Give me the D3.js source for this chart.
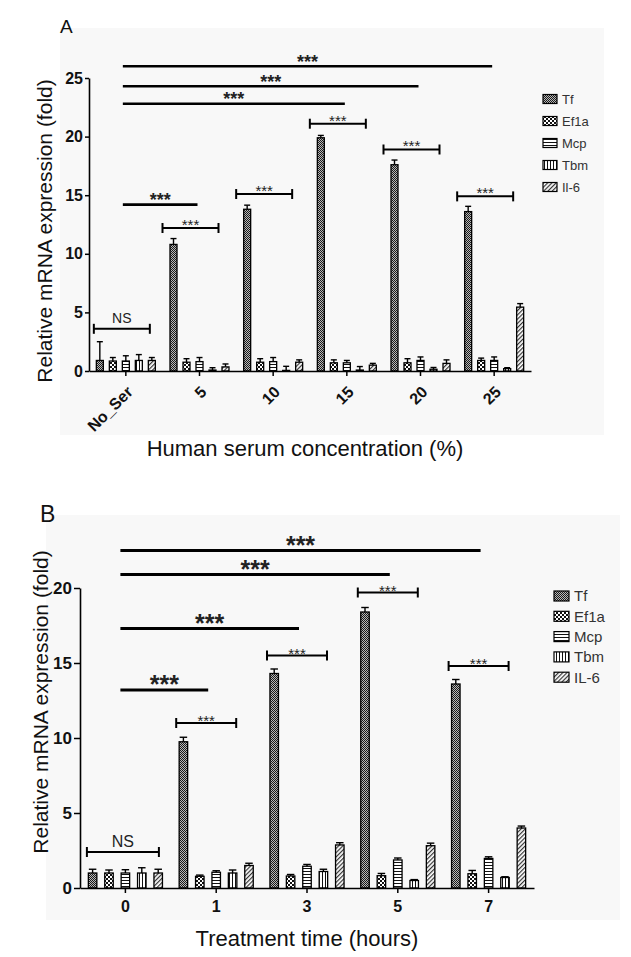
<!DOCTYPE html>
<html><head><meta charset="utf-8">
<script src="https://cdn.jsdelivr.net/npm/d3@7"></script>
<style>body{margin:0;background:#fff}svg{display:block}</style>
</head><body>
<svg id="c" width="631" height="957"></svg>
<script>
// ---------- DATA ----------
const seriesA = ["Tf","Ef1a","Mcp","Tbm","Il-6"];
const seriesB = ["Tf","Ef1a","Mcp","Tbm","IL-6"];
const catA = ["No_Ser","5","10","15","20","25"];
const catB = ["0","1","3","5","7"];
const ticksA = [0,5,10,15,20,25];
const ticksB = [0,5,10,15,20];

const tfA   = [0.9, 10.8, 13.8, 19.9, 17.6, 13.6];
const tfAe  = [1.6, 0.5, 0.35, 0.2, 0.4, 0.45];
const efA   = [0.85, 0.75, 0.75, 0.7, 0.7, 0.9];
const efAe  = [0.3, 0.3, 0.3, 0.25, 0.35, 0.2];
const mcpA  = [0.85, 0.8, 0.8, 0.7, 0.9, 0.9];
const mcpAe = [0.45, 0.35, 0.35, 0.2, 0.3, 0.3];
const tbmA  = [0.9, 0.08, 0.05, 0.08, 0.15, 0.2];
const tbmAe = [0.5, 0.2, 0.35, 0.3, 0.15, 0.08];
const il6A  = [0.9, 0.35, 0.75, 0.5, 0.65, 5.45];
const il6Ae = [0.25, 0.25, 0.2, 0.15, 0.3, 0.3];

const tfB   = [1.0, 9.75, 14.3, 18.4, 13.6];
const tfBe  = [0.25, 0.3, 0.3, 0.3, 0.3];
const efB   = [1.0, 0.78, 0.8, 0.82, 0.95];
const efBe  = [0.2, 0.08, 0.1, 0.15, 0.22];
const mcpB  = [1.0, 1.05, 1.45, 1.87, 1.97];
const mcpBe = [0.22, 0.1, 0.12, 0.13, 0.11];
const tbmB  = [1.0, 1.0, 1.1, 0.5, 0.7];
const tbmBe = [0.35, 0.2, 0.15, 0.06, 0.05];
const il6B  = [1.0, 1.5, 2.87, 2.82, 4.0];
const il6Be = [0.25, 0.15, 0.15, 0.17, 0.13];

// significance annotations: long lines from first group to group index, at value
const lineToA = [5, 4, 3, 1];
const lineYA  = [26.0, 24.3, 22.8, 14.2];
const brGrpA  = [1, 2, 3, 4, 5];
const brYA    = [12.2, 15.1, 21.1, 18.9, 14.9];
const nsYA    = 3.6;

const lineToB = [4, 3, 2, 1];
const lineYB  = [22.5, 20.9, 17.3, 13.2];
const brGrpB  = [1, 2, 3, 4];
const brYB    = [11.0, 15.5, 19.7, 14.8];
const nsYB    = 2.4;

// ---------- DRAWING ----------
const svg = d3.select("#c");
const defs = svg.append("defs");
function pat(id, w, h, draw, tr){
  const p = defs.append("pattern").attr("id", id).attr("patternUnits","userSpaceOnUse")
    .attr("width", w).attr("height", h);
  if (tr) p.attr("patternTransform", tr);
  draw(p);
}
pat("pTf", 2, 2, p => {
  p.append("rect").attr("width",2).attr("height",2).attr("fill","#b8b8b8");
  p.append("rect").attr("width",1).attr("height",1).attr("fill","#1a1a1a");
  p.append("rect").attr("x",1).attr("y",1).attr("width",1).attr("height",1).attr("fill","#1a1a1a");
});
pat("pEf", 4, 4, p => {
  p.append("rect").attr("width",4).attr("height",4).attr("fill","#fff");
  p.append("rect").attr("width",2).attr("height",2).attr("fill","#111");
  p.append("rect").attr("x",2).attr("y",2).attr("width",2).attr("height",2).attr("fill","#111");
});
pat("pMcp", 4, 3, p => {
  p.append("rect").attr("width",4).attr("height",3).attr("fill","#fff");
  p.append("rect").attr("y",1).attr("width",4).attr("height",1).attr("fill","#111");
});
pat("pTbm", 3, 4, p => {
  p.append("rect").attr("width",3).attr("height",4).attr("fill","#fff");
  p.append("rect").attr("x",1).attr("width",1).attr("height",4).attr("fill","#111");
});
pat("pIl", 3, 3, p => {
  p.append("rect").attr("width",3).attr("height",3).attr("fill","#fff");
  p.append("rect").attr("width",1.2).attr("height",3).attr("fill","#333");
}, "rotate(45)");
const fills = ["url(#pTf)","url(#pEf)","url(#pMcp)","url(#pTbm)","url(#pIl)"];
const FONT = "'Liberation Sans', Arial, Helvetica, sans-serif";

function panel(cfg){
  const g = svg.append("g");
  g.append("rect").attr("x",cfg.bg[0]).attr("y",cfg.bg[1]).attr("width",cfg.bg[2]-cfg.bg[0])
    .attr("height",cfg.bg[3]-cfg.bg[1]).attr("fill","#f8f8f8");
  g.append("text").text(cfg.letter).attr("x",cfg.letterPos[0]).attr("y",cfg.letterPos[1])
    .attr("font-family",FONT).attr("font-size",cfg.letterFs).attr("fill","#111");

  const x = d3.scaleBand().domain(cfg.cats).range(cfg.xr);
  const y = d3.scaleLinear().domain([0, cfg.ymax]).range(cfg.yr);
  const xs = d3.scalePoint().domain(cfg.series).range([-2*cfg.pitch, 2*cfg.pitch]);
  const bw = cfg.bw;

  const rows = [];
  cfg.cats.forEach((c,i) => cfg.series.forEach((s,k) => {
    rows.push({c, s, k, v: cfg.vals[k][i], e: cfg.errs[k][i]});
  }));
  const cx = d => x(d.c) + x.bandwidth()/2 + xs(d.s);

  // error bars
  const eb = g.append("g").attr("stroke","#000").attr("stroke-width",1.4);
  eb.selectAll("line.v").data(rows).join("line").attr("class","v")
    .attr("x1",cx).attr("x2",cx).attr("y1",d=>y(d.v)).attr("y2",d=>y(d.v+d.e));
  eb.selectAll("line.c").data(rows).join("line").attr("class","c")
    .attr("x1",d=>cx(d)-bw/2+0.5).attr("x2",d=>cx(d)+bw/2-0.5).attr("y1",d=>y(d.v+d.e)).attr("y2",d=>y(d.v+d.e));
  // bars
  g.append("g").selectAll("rect").data(rows).join("rect")
    .attr("x",d=>cx(d)-bw/2).attr("width",bw)
    .attr("y",d=>y(d.v)).attr("height",d=>y(0)-y(d.v))
    .attr("fill",d=>fills[d.k]).attr("stroke","#000").attr("stroke-width",1.3);

  // axes
  const ya = g.append("g").attr("transform",`translate(${cfg.xr[0]},0)`)
    .call(d3.axisLeft(y).tickValues(cfg.ticks).tickSize(cfg.ytick).tickSizeOuter(0).tickPadding(2));
  ya.select(".domain").attr("stroke-width",1.6);
  ya.selectAll(".tick line").attr("stroke-width",1.5);
  ya.selectAll("text").attr("font-family",FONT).attr("font-weight","bold").attr("font-size",cfg.tfs).attr("fill","#111");

  const xa = g.append("g").attr("transform",`translate(0,${cfg.yr[0]})`)
    .call(d3.axisBottom(x).tickSize(5).tickSizeOuter(0).tickPadding(cfg.rot ? 4 : 8));
  xa.select(".domain").attr("stroke-width",1.6);
  xa.selectAll(".tick line").attr("stroke-width",1.5);
  const xt = xa.selectAll("text").attr("font-family",FONT).attr("font-weight","bold").attr("font-size",cfg.xfs).attr("fill","#111");
  if (cfg.rot) xt.attr("text-anchor","end").attr("dy","0.35em").attr("transform","translate(4,18) rotate(-45)").attr("y",0);

  // titles
  g.append("text").text(cfg.xtitle).attr("x",cfg.xtitleX).attr("y",cfg.xtitleY)
    .attr("text-anchor","middle").attr("font-family",FONT).attr("font-size",22).attr("fill","#111");
  g.append("text").text("Relative mRNA expression (fold)")
    .attr("transform",`translate(${cfg.ytitleX},${cfg.ytitleY}) rotate(-90)`)
    .attr("text-anchor","middle").attr("font-family",FONT).attr("font-size",21).attr("fill","#111");

  // legend
  const lg = g.append("g");
  cfg.series.forEach((s,k) => {
    const yy = cfg.leg[1] + k*cfg.leg[2];
    lg.append("rect").attr("x",cfg.leg[0]).attr("y",yy-cfg.leg[4]/2).attr("width",cfg.leg[3]).attr("height",cfg.leg[4])
      .attr("fill",fills[k]).attr("stroke","#000").attr("stroke-width",1.2);
    lg.append("text").text(s).attr("x",cfg.leg[0]+cfg.leg[3]+5).attr("y",yy).attr("dy","0.36em")
      .attr("font-family",FONT).attr("font-size",cfg.lfs).attr("fill","#333");
  });

  // annotations
  const an = g.append("g");
  const gc = i => x(cfg.cats[i]) + x.bandwidth()/2;
  cfg.lineTo.forEach((j,i) => {
    const yy = y(cfg.lineY[i]);
    const x1 = gc(0) + cfg.lineOff[0], x2 = gc(j) + cfg.lineOff[1];
    an.append("line").attr("x1",x1).attr("x2",x2).attr("y1",yy).attr("y2",yy).attr("stroke","#000").attr("stroke-width",cfg.lineW);
    an.append("text").text("***").attr("x",(x1+x2)/2).attr("y",yy-cfg.starGap).attr("text-anchor","middle")
      .attr("font-family",FONT).attr("font-weight","bold").attr("font-size",cfg.starFs).attr("fill","#222");
  });
  function bracket(cxx, half, yy, label, fs, gap, bold){
    an.append("line").attr("x1",cxx-half).attr("x2",cxx+half).attr("y1",yy).attr("y2",yy).attr("stroke","#000").attr("stroke-width",2);
    [cxx-half, cxx+half].forEach(xx => an.append("line").attr("x1",xx).attr("x2",xx).attr("y1",yy-5).attr("y2",yy+5).attr("stroke","#000").attr("stroke-width",2));
    an.append("text").text(label).attr("x",cxx).attr("y",yy-gap).attr("text-anchor","middle")
      .attr("font-family",FONT).attr("font-weight",bold?"bold":"normal").attr("font-size",fs).attr("fill","#222");
  }
  cfg.brGrp.forEach((j,i) => bracket(gc(j)+cfg.brOff, cfg.brHalf, y(cfg.brY[i]), "***", cfg.brFs, cfg.brGap, false));
  bracket(gc(0)+cfg.nsOff, cfg.nsHalf, y(cfg.nsY), "NS", cfg.nsFs, cfg.nsGap, false);
}

panel({
  letter:"A", letterPos:[60,33], letterFs:19, bg:[60,28,604,435],
  cats:catA, series:seriesA, ticks:ticksA, ymax:25, xr:[89,531], yr:[371,78],
  pitch:13, bw:7, vals:[tfA,efA,mcpA,tbmA,il6A], errs:[tfAe,efAe,mcpAe,tbmAe,il6Ae],
  tfs:16, xfs:16, rot:true, ytick:4,
  xtitle:"Human serum concentration (%)", xtitleX:305, xtitleY:456, ytitleX:52, ytitleY:231,
  leg:[543,99,22,14,9], lfs:13,
  lineTo:lineToA, lineY:lineYA, lineOff:[-3,-2], lineW:2.6, starGap:-1.5, starFs:18,
  brGrp:brGrpA, brY:brYA, brOff:-9, brHalf:28, brFs:15, brGap:-2,
  nsY:nsYA, nsOff:-4, nsHalf:28, nsFs:14, nsGap:6
});

panel({
  letter:"B", letterPos:[40,522], letterFs:23, bg:[46,515,620,920],
  cats:catB, series:seriesB, ticks:ticksB, ymax:20, xr:[80,534], yr:[888,588],
  pitch:16.4, bw:8.5, vals:[tfB,efB,mcpB,tbmB,il6B], errs:[tfBe,efBe,mcpBe,tbmBe,il6Be],
  tfs:17, xfs:16, rot:false, ytick:6,
  xtitle:"Treatment time (hours)", xtitleX:307, xtitleY:946, ytitleX:48, ytitleY:702,
  leg:[554,596,20.3,15,10], lfs:15,
  lineTo:lineToB, lineY:lineYB, lineOff:[-5,-8], lineW:3, starGap:-3, starFs:25,
  brGrp:brGrpB, brY:brYB, brOff:-10, brHalf:30, brFs:15, brGap:-3,
  nsY:nsYB, nsOff:-2.5, nsHalf:36, nsFs:16, nsGap:5
});
</script>
</body></html>
